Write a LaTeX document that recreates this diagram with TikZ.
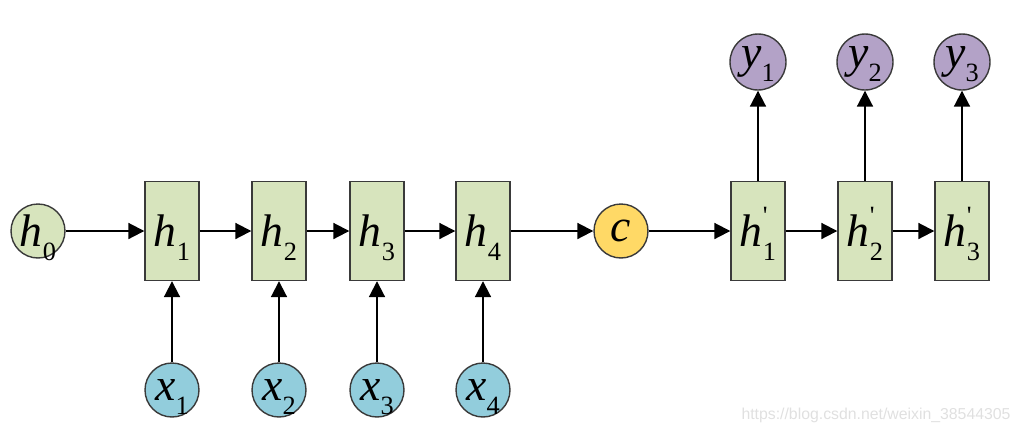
\documentclass[tikz,border=0pt]{standalone}
\usepackage{fontspec}
\setmainfont{Liberation Serif}
\setsansfont{Liberation Sans}
\usetikzlibrary{arrows.meta}

\definecolor{cellgreen}{HTML}{D7E4BD}
\definecolor{inblue}{HTML}{92CDDC}
\definecolor{outpurple}{HTML}{B3A2C7}
\definecolor{ctxyellow}{HTML}{FFD966}
\definecolor{linegray}{HTML}{3A3A3A}

% italic letter with upright subscript (and optional prime)
\newcommand{\bigfont}{\fontsize{26}{26}\selectfont}
\newcommand{\subfont}{\fontsize{15}{15}\selectfont}
\newcommand{\vsub}[2]{\textit{#1}\raisebox{-8pt}[0pt][0pt]{\subfont #2}}
\newcommand{\vsubp}[2]{\textit{#1}\rlap{\raisebox{13pt}[0pt][0pt]{\subfont\textquotesingle}}\raisebox{-8pt}[0pt][0pt]{\subfont #2}}

\begin{document}
\begin{tikzpicture}[x=0.02cm,y=-0.02cm,>={Triangle[length=9pt,width=9pt]},
  cellbox/.style={draw=linegray, line width=0.8pt, fill=cellgreen, rectangle,
    minimum width=1.08cm, minimum height=1.98cm, inner sep=0pt, font=\bigfont},
  statenode/.style={draw=linegray, line width=0.8pt, circle,
    minimum size=1.08cm, inner sep=0pt, font=\bigfont},
  link/.style={->, line width=1.1pt, black}]
\useasboundingbox (0,0) rectangle (1022,434);

% encoder
\node(h0)[statenode, fill=cellgreen] at (38,231) {\vsub{h}{0}};
\node(h1)[cellbox] at (172,231) {\vsub{h}{1}};
\node(h2)[cellbox] at (279,231) {\vsub{h}{2}};
\node(h3)[cellbox] at (377,231) {\vsub{h}{3}};
\node(h4)[cellbox] at (483,231) {\vsub{h}{4}};

\node(x1)[statenode, fill=inblue] at (172,390) {\vsub{x}{1}};
\node(x2)[statenode, fill=inblue] at (279,390) {\vsub{x}{2}};
\node(x3)[statenode, fill=inblue] at (377,390) {\vsub{x}{3}};
\node(x4)[statenode, fill=inblue] at (483,390) {\vsub{x}{4}};

% context
\node(c)[statenode, fill=ctxyellow] at (621,231) {\textit{c}};

% decoder
\node(d1)[cellbox] at (758,231) {\vsubp{h}{1}};
\node(d2)[cellbox] at (865,231) {\vsubp{h}{2}};
\node(d3)[cellbox] at (962,231) {\vsubp{h}{3}};

\node(y1)[statenode, fill=outpurple, minimum size=1.12cm] at (758,62) {\vsub{y}{1}};
\node(y2)[statenode, fill=outpurple, minimum size=1.12cm] at (865,62) {\vsub{y}{2}};
\node(y3)[statenode, fill=outpurple, minimum size=1.12cm] at (962,62) {\vsub{y}{3}};

\draw (h0.east) edge[link] (h1.west);
\draw (h1.east) edge[link] (h2.west);
\draw (h2.east) edge[link] (h3.west);
\draw (h3.east) edge[link] (h4.west);
\draw (h4.east) edge[link] (c.west);
\draw (c.east) edge[link] (d1.west);
\draw (d1.east) edge[link] (d2.west);
\draw (d2.east) edge[link] (d3.west);

\draw (x1.north) edge[link] (h1.south);
\draw (x2.north) edge[link] (h2.south);
\draw (x3.north) edge[link] (h3.south);
\draw (x4.north) edge[link] (h4.south);

\draw (d1.north) edge[link] (y1.south);
\draw (d2.north) edge[link] (y2.south);
\draw (d3.north) edge[link] (y3.south);

\node(mark)[font=\sffamily\fontsize{9}{10}\selectfont, text=black!12, inner sep=0pt] at (876,415) {https://blog.csdn.net/weixin\_38544305};
\end{tikzpicture}
\end{document}
